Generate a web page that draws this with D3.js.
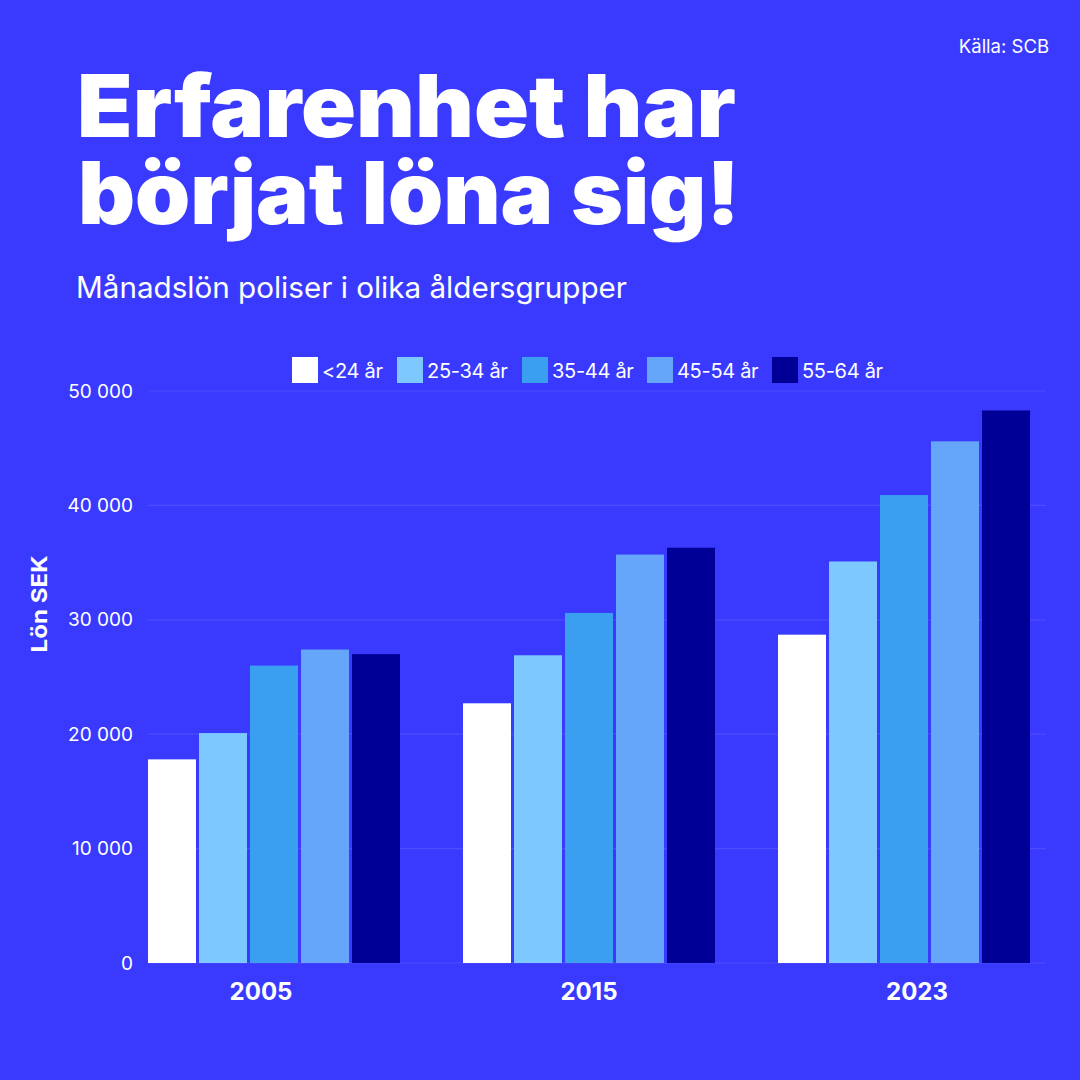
<!DOCTYPE html>
<html><head><meta charset="utf-8">
<script src="https://cdn.jsdelivr.net/npm/d3@7"></script>
<style>
html,body{margin:0;padding:0;background:#3a3aff;}
svg{display:block;font-family:Inter, "Noto Sans", sans-serif;}
</style></head>
<body>
<svg id="c" width="1080" height="1080"></svg>
<script>
const years = ["2005", "2015", "2023"];
const groups = ["<24 år", "25-34 år", "35-44 år", "45-54 år", "55-64 år"];
const v2005 = [17800, 20100, 26000, 27400, 27000];
const v2015 = [22700, 26900, 30600, 35700, 36300];
const v2023 = [28700, 35100, 40900, 45600, 48300];
const colors = ["#ffffff", "#7dc8ff", "#3a9ff0", "#66a6fa", "#000096"];
const yTicks = [0, 10000, 20000, 30000, 40000, 50000];
const seriesByYear = [v2005, v2015, v2023];

const svg = d3.select("#c");
svg.append("rect").attr("width",1080).attr("height",1080).attr("fill","#3a3aff");

// Title
const t1 = svg.append("text").attr("x",77).attr("y",137).attr("fill","#fff")
  .attr("font-size",86).attr("font-weight",900).text("Erfarenhet har");
const t2 = svg.append("text").attr("x",78).attr("y",224).attr("fill","#fff")
  .attr("font-size",86).attr("font-weight",900).text("börjat löna sig!");
[[t1,659],[t2,662]].forEach(([t,w])=>{t.attr("textLength",w).attr("lengthAdjust","spacingAndGlyphs");});

svg.append("text").attr("x",76).attr("y",298).attr("fill","#fff").attr("font-size",29.5)
  .attr("textLength",551).attr("lengthAdjust","spacingAndGlyphs")
  .text("Månadslön poliser i olika åldersgrupper");
svg.append("text").attr("x",1049).attr("y",53).attr("fill","#fff").attr("font-size",18.5)
  .attr("text-anchor","end").text("Källa: SCB");

// Scales
const x0 = d3.scaleBand().domain(years).range([148,1030]).paddingInner(0.2).paddingOuter(0);
const x1 = d3.scaleBand().domain(groups).range([0,x0.bandwidth()]).paddingInner(0.0588).paddingOuter(0);
const xLab = d3.scaleBand().domain(years).range([97,1081]);
const y = d3.scaleLinear().domain([0,50000]).range([963,391]);
const fmt = v => d3.format(",")(v).replace(/,/g," ");

// Grid
const grid = svg.append("g");
grid.selectAll("line").data(yTicks).join("line")
  .attr("x1",148).attr("x2",1046).attr("y1",d=>y(d)).attr("y2",d=>y(d))
  .attr("stroke","#4d4dff").attr("stroke-width",1.2);

// Y axis
const yAxis = svg.append("g").attr("transform","translate(148,0)")
  .call(d3.axisLeft(y).tickValues(yTicks).tickFormat(fmt).tickSize(0).tickPadding(15));
yAxis.select(".domain").remove();
yAxis.selectAll("text").attr("fill","#fff").attr("font-size",19).attr("font-family","Inter, sans-serif");

svg.append("text").attr("transform","translate(47,604) rotate(-90)").attr("text-anchor","middle")
  .attr("fill","#fff").attr("font-size",22).attr("font-weight",700)
  .attr("textLength",97).attr("lengthAdjust","spacingAndGlyphs").text("Lön SEK");

// Bars
const gy = svg.append("g").selectAll("g").data(years).join("g")
  .attr("transform",d=>`translate(${x0(d)},0)`);
gy.selectAll("rect").data((d,i)=>seriesByYear[i].map((v,j)=>({g:groups[j],v,c:colors[j]})))
  .join("rect")
  .attr("x",d=>x1(d.g)).attr("width",x1.bandwidth())
  .attr("y",d=>y(d.v)).attr("height",d=>y(0)-y(d.v))
  .attr("fill",d=>d.c);

// X axis labels
const xAxis = svg.append("g").attr("transform","translate(0,963)")
  .call(d3.axisBottom(xLab).tickSize(0).tickPadding(20));
xAxis.select(".domain").remove();
xAxis.selectAll("text").attr("fill","#fff").attr("font-size",24).attr("font-weight",700).attr("font-family","Inter, sans-serif");

// Legend
const legX = [292, 397, 522, 647, 772];
const leg = svg.append("g").selectAll("g").data(groups).join("g")
  .attr("transform",(d,i)=>`translate(${legX[i]},357)`);
leg.append("rect").attr("width",26).attr("height",26).attr("fill",(d,i)=>colors[i]);
leg.append("text").attr("x",30).attr("y",21).attr("fill","#fff").attr("font-size",20)
  .attr("letter-spacing",-0.3).text(d=>d);
</script>
</body></html>
